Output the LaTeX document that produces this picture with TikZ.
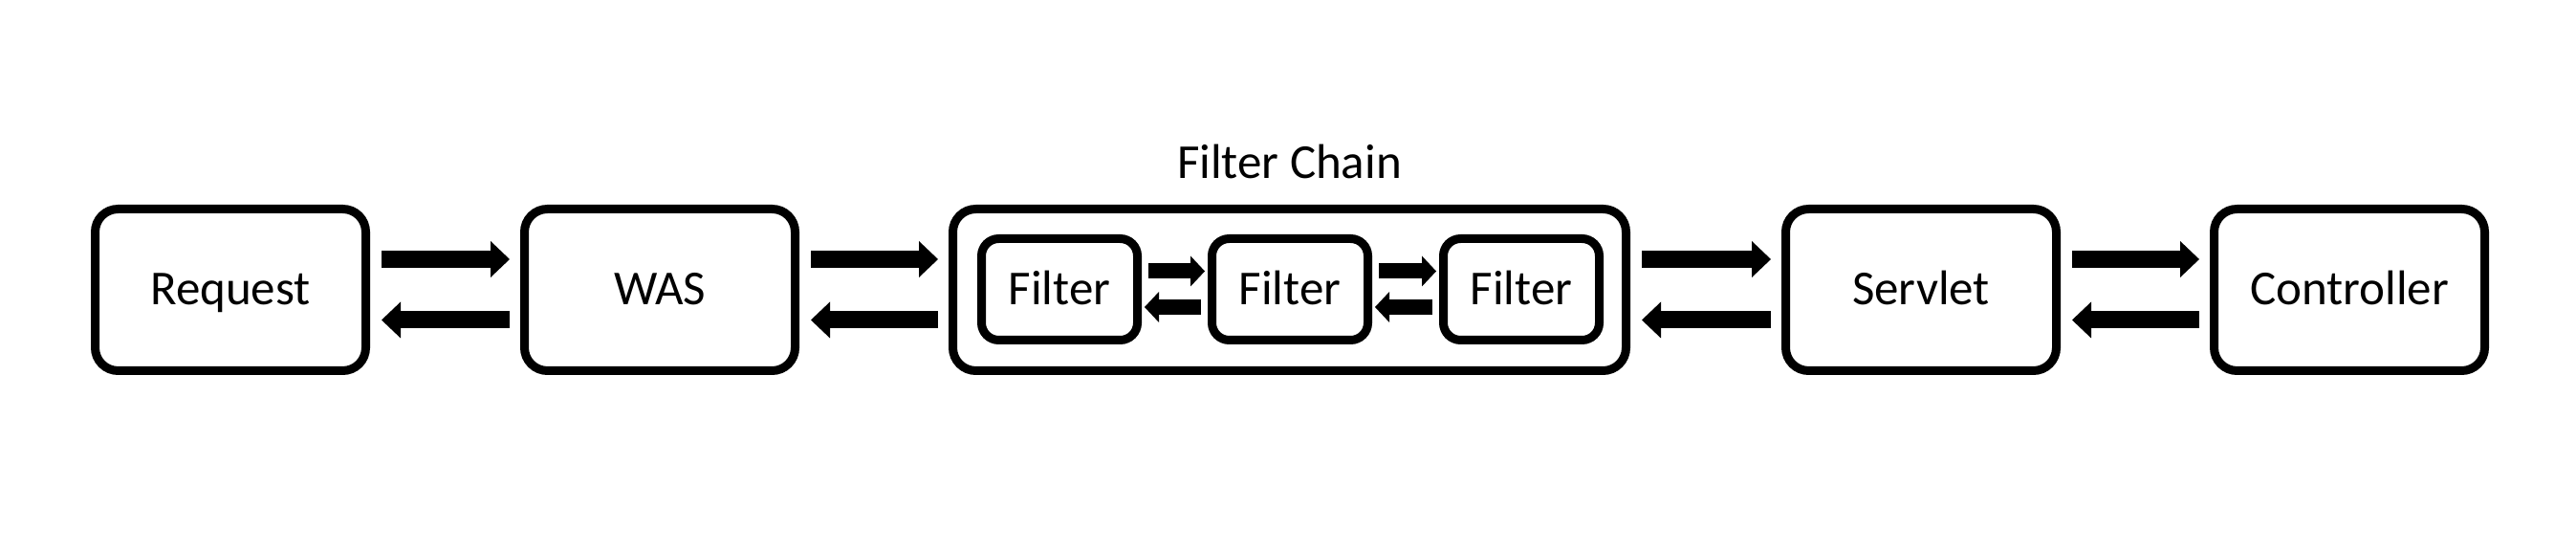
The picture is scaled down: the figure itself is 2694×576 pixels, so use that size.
\documentclass[tikz,border=0pt]{standalone}
\usepackage{fontspec}
\setmainfont{Carlito}
\usetikzlibrary{arrows.meta}
\begin{document}
\begin{tikzpicture}[x=1pt,y=1pt,
  box/.style={draw, line width=9pt, outer sep=0pt, inner sep=0pt, rounded corners=24pt,
    minimum width=283pt, minimum height=169pt,
    font=\fontsize{51}{61}\selectfont, text height=32pt, text depth=0pt},
  filterbox/.style={box, minimum width=163pt, minimum height=106pt, rounded corners=18pt},
  bigarr/.style={line width=18pt, -{Triangle[length=20pt,width=38pt,line width=0pt]}},
  smallarr/.style={line width=16pt, -{Triangle[length=15pt,width=32pt,line width=0pt]}},
  titletext/.style={font=\fontsize{51}{61}\selectfont, inner sep=0pt, anchor=base}]
\useasboundingbox (0,0) rectangle (2694,576);
% main boxes
\node[box] (req) at (241,273) {Request};
\node[box] (was) at (690,273) {WAS};
\node[box, minimum width=704pt] (fc) at (1348.5,273) {};
\node[box] (srv) at (2009,273) {Servlet};
\node[box] (ctl) at (2457,273) {Controller};
% filters
\node[filterbox] (f1) at (1108,273.5) {Filter};
\node[filterbox] (f2) at (1349,273.5) {Filter};
\node[filterbox] (f3) at (1591,273.5) {Filter};
% title
\node[titletext] (title) at ([yshift=31.5pt]fc.north) {Filter Chain};
% big arrows
\foreach \a/\b in {req/was, was/fc, fc/srv, srv/ctl}{
  \draw[bigarr, shorten <=16.5pt, shorten >=15.5pt] ([yshift=32pt]\a.east) -- ([yshift=32pt]\b.west);
  \draw[bigarr, shorten <=15.5pt, shorten >=16.5pt] ([yshift=-31.5pt]\b.west) -- ([yshift=-31.5pt]\a.east);
}
% small arrows
\foreach \a/\b in {f1/f2, f2/f3}{
  \draw[smallarr, shorten <=11.5pt, shorten >=7.5pt] ([yshift=19pt]\a.east) -- ([yshift=19pt]\b.west);
  \draw[smallarr, shorten <=11.5pt, shorten >=7.5pt] ([yshift=-18.5pt]\b.west) -- ([yshift=-18.5pt]\a.east);
}
\end{tikzpicture}
\end{document}
